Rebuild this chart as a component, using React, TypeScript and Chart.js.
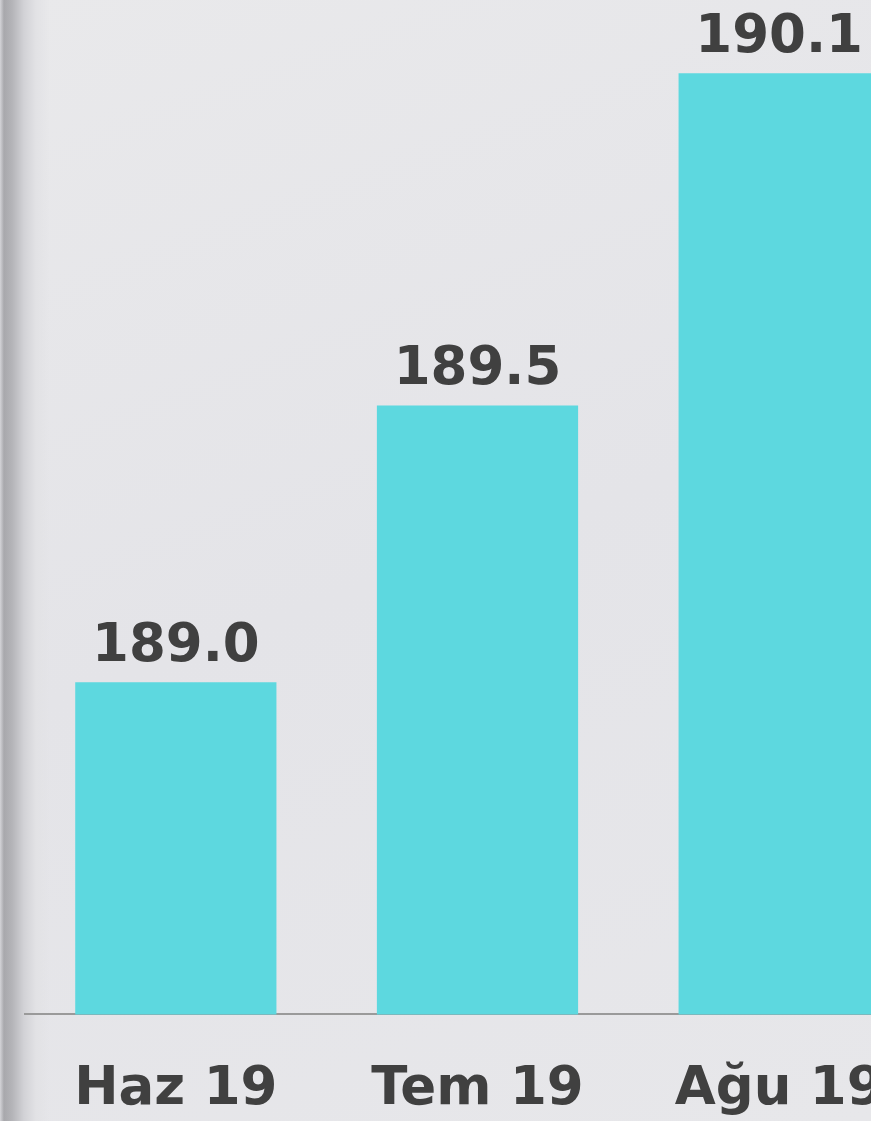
import React, { useEffect, useRef } from "react";
import { Chart, registerables } from "chart.js";

Chart.register(...registerables);

const categories = ["Haz 19", "Tem 19", "Ağu 19"];
const values = [189.0, 189.5, 190.1];
const yMin = 188.4;
const yMax = 190.2;

const FONT = "'DejaVu Sans', Verdana, sans-serif";
const TEXT = "#404040";

const valueLabels = {
  id: "valueLabels",
  afterDatasetsDraw(chart: any) {
    const ctx = chart.ctx;
    const meta = chart.getDatasetMeta(0);
    ctx.save();
    ctx.font = `bold 53px ${FONT}`;
    ctx.fillStyle = TEXT;
    ctx.textAlign = "center";
    ctx.textBaseline = "alphabetic";
    meta.data.forEach((bar: any, i: number) => {
      ctx.fillText(values[i].toFixed(1), bar.x, bar.y - 21);
    });
    ctx.restore();
  },
};

export default function App() {
  const ref = useRef<HTMLCanvasElement>(null);
  useEffect(() => {
    if (!ref.current) return;
    const chart = new Chart(ref.current, {
      type: "bar",
      data: {
        labels: categories,
        datasets: [
          {
            data: values,
            backgroundColor: "#5dd8df",
            barPercentage: 0.667,
            categoryPercentage: 1,
          },
        ],
      },
      options: {
        responsive: false,
        animation: false,
        layout: { padding: { left: 25, right: 0, top: 18, bottom: 0 } },
        plugins: { legend: { display: false }, tooltip: { enabled: false } },
        scales: {
          x: {
            grid: { display: false },
            border: { display: true, color: "#9a9a9a", width: 2 },
            ticks: {
              color: TEXT,
              font: { family: FONT, size: 53, weight: "bold" },
              padding: 36,
              maxRotation: 0,
              autoSkip: false,
            },
          },
          y: {
            display: false,
            min: yMin,
            max: yMax,
          },
        },
      },
      plugins: [valueLabels],
    });
    return () => chart.destroy();
  }, []);

  return (
    <div
      style={{
        position: "absolute",
        left: 0,
        top: 0,
        width: 871,
        height: 1121,
        overflow: "hidden",
        background:
          "linear-gradient(90deg, #d4d4d8 0px, #a8a8ac 4px, #b4b4b8 12px, #d2d2d6 24px, #e2e2e5 36px, rgba(230,230,233,0) 50px), linear-gradient(160deg, #e9e9eb 0%, #e4e4e8 50%, #e7e7ea 100%)",
      }}
    >
      <canvas ref={ref} width={930} height={1158} style={{ display: "block" }} />
    </div>
  );
}
